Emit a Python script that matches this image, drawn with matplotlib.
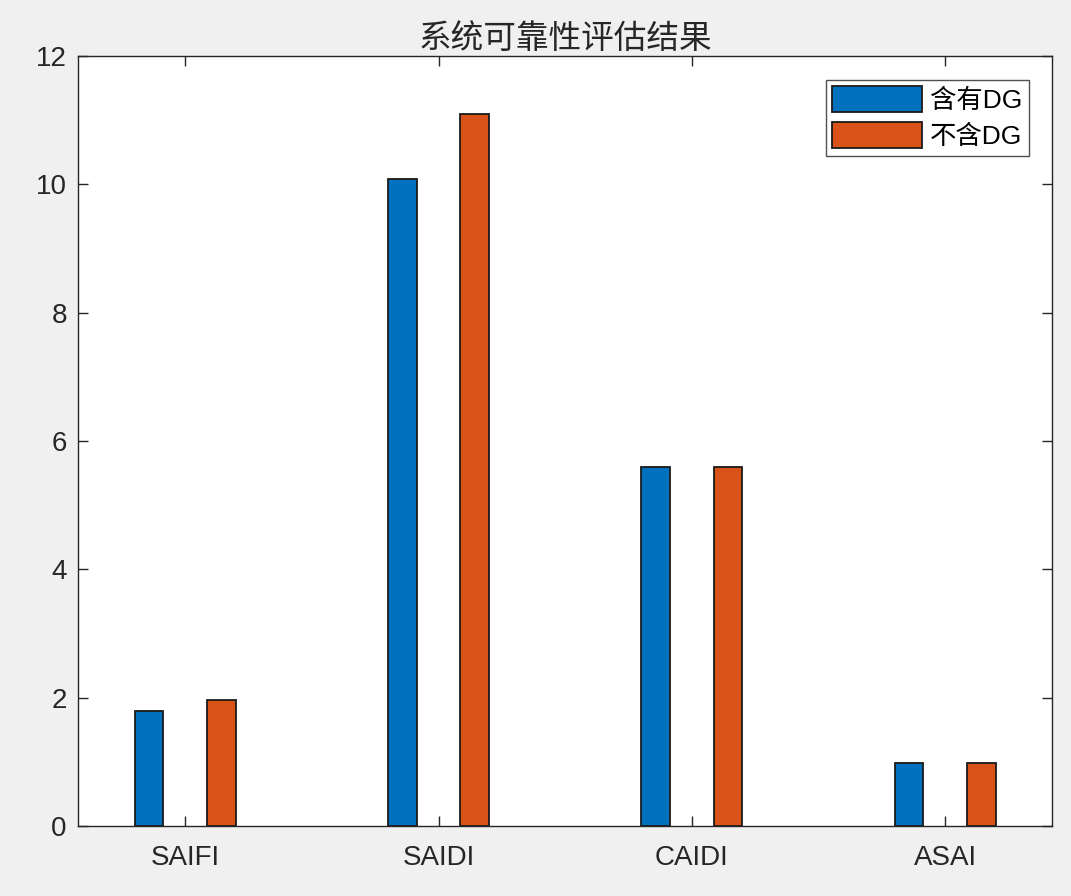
import matplotlib
matplotlib.use("Agg")
import matplotlib.pyplot as plt
import numpy as np

plt.rcParams['font.family'] = ['Liberation Sans', 'Noto Sans CJK SC', 'DejaVu Sans']

categories = ['SAIFI', 'SAIDI', 'CAIDI', 'ASAI']
with_dg = [1.80, 10.09, 5.59, 0.98]
without_dg = [1.96, 11.09, 5.59, 0.98]
series_names = ['含有DG', '不含DG']
title = '系统可靠性评估结果'
yticks = [0, 2, 4, 6, 8, 10, 12]

fig = plt.figure(figsize=(10.71, 8.96), dpi=100, facecolor='#f0f0f0')
ax = fig.add_axes([0.0728, 0.0781, 0.9099, 0.8594])
ax.set_facecolor('white')

x = np.arange(1, len(categories) + 1)
w = 0.113
off = 0.143
ax.bar(x - off, with_dg, w, color='#0072BD', edgecolor='#1a1a1a', linewidth=1.3, label=series_names[0])
ax.bar(x + off, without_dg, w, color='#D95319', edgecolor='#1a1a1a', linewidth=1.3, label=series_names[1])

ax.set_xlim(0.5765, 4.4235)
ax.set_ylim(0, 12)
ax.set_xticks(x)
ax.set_xticklabels(categories)
ax.set_yticks(yticks)
ax.tick_params(direction='in', length=7, width=1, colors='#262626', labelsize=20,
               top=True, right=True)
ax.tick_params(axis='x', pad=14)
ax.tick_params(axis='y', pad=8)
for s in ax.spines.values():
    s.set_color('#262626')
    s.set_linewidth(1)

ax.set_title(title, fontsize=23.5, color='#262626', family=['Noto Sans CJK SC', 'DejaVu Sans'], pad=6)

leg = ax.legend(loc='upper right', bbox_to_anchor=(0.976, 0.969),
                prop={'family': ['Liberation Sans', 'Noto Sans CJK SC'], 'size': 19},
                frameon=True, fancybox=False, edgecolor='#262626', handlelength=3.4, handleheight=1.1,
                handletextpad=0.3, borderpad=0.25, labelspacing=0.35, borderaxespad=0)
leg.get_frame().set_linewidth(1)

fig.savefig('out.png', dpi=100, facecolor=fig.get_facecolor())
